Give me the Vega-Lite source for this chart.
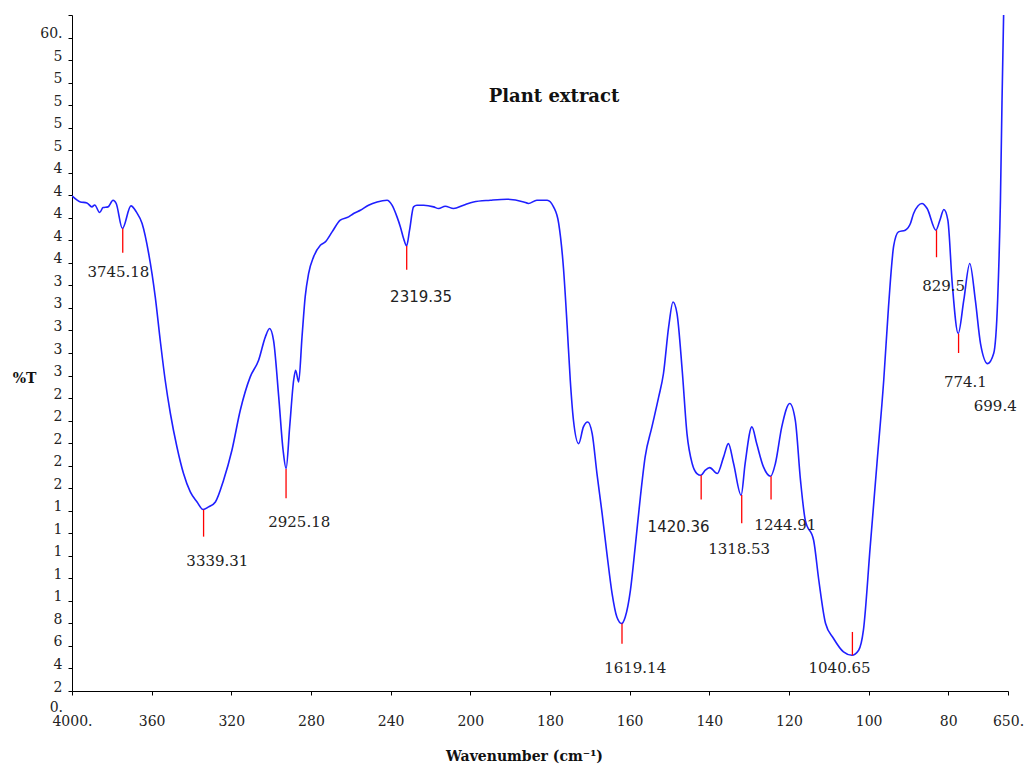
{
  "$schema": "https://vega.github.io/schema/vega-lite/v6.json",
  "width": 936,
  "height": 676,
  "autosize": "none",
  "padding": {"left": 72, "top": 15, "right": 17, "bottom": 76},
  "background": "white",
  "config": {"view": {"stroke": null}},
  "title": {"text": "Plant extract", "font": "DejaVu Serif", "fontSize": 18, "fontWeight": "bold", "color": "#111", "anchor": "middle", "offset": -116, "baseline": "alphabetic", "dx": 14},
  "datasets": {
    "spectrum": [
      {"wn": 4000, "t": 45.94}, {"wn": 3958, "t": 45.41}, {"wn": 3925, "t": 45.32}, {"wn": 3900, "t": 44.97},
      {"wn": 3886, "t": 45.14}, {"wn": 3861, "t": 44.47}, {"wn": 3844, "t": 44.91}, {"wn": 3819, "t": 44.97},
      {"wn": 3794, "t": 45.56}, {"wn": 3778, "t": 45.27}, {"wn": 3747, "t": 43.05}, {"wn": 3704, "t": 45.06},
      {"wn": 3677, "t": 44.52}, {"wn": 3648, "t": 43.49}, {"wn": 3615, "t": 40.83}, {"wn": 3582, "t": 36.98},
      {"wn": 3557, "t": 33.13}, {"wn": 3532, "t": 29.58}, {"wn": 3506, "t": 26.63}, {"wn": 3473, "t": 23.66},
      {"wn": 3440, "t": 21.3}, {"wn": 3406, "t": 19.67}, {"wn": 3372, "t": 18.78}, {"wn": 3342, "t": 18.11},
      {"wn": 3314, "t": 18.34}, {"wn": 3280, "t": 18.78}, {"wn": 3239, "t": 20.71}, {"wn": 3197, "t": 23.37},
      {"wn": 3155, "t": 26.92}, {"wn": 3105, "t": 29.88}, {"wn": 3063, "t": 31.36}, {"wn": 3029, "t": 33.43},
      {"wn": 3008, "t": 34.17}, {"wn": 2988, "t": 33.13}, {"wn": 2962, "t": 28.1}, {"wn": 2940, "t": 23.37},
      {"wn": 2925, "t": 21.74}, {"wn": 2907, "t": 25.44}, {"wn": 2887, "t": 29.58}, {"wn": 2877, "t": 30.47},
      {"wn": 2862, "t": 29.43}, {"wn": 2845, "t": 33.43}, {"wn": 2829, "t": 37.0}, {"wn": 2812, "t": 39.05},
      {"wn": 2787, "t": 40.53}, {"wn": 2753, "t": 41.57}, {"wn": 2728, "t": 41.86}, {"wn": 2694, "t": 42.75},
      {"wn": 2653, "t": 43.79}, {"wn": 2611, "t": 44.08}, {"wn": 2586, "t": 44.38}, {"wn": 2552, "t": 44.67},
      {"wn": 2511, "t": 45.12}, {"wn": 2468, "t": 45.41}, {"wn": 2418, "t": 45.56}, {"wn": 2393, "t": 45.12},
      {"wn": 2368, "t": 44.08}, {"wn": 2351, "t": 43.19}, {"wn": 2335, "t": 42.16}, {"wn": 2320, "t": 41.5},
      {"wn": 2305, "t": 42.9}, {"wn": 2285, "t": 44.97}, {"wn": 2268, "t": 45.12}, {"wn": 2234, "t": 45.12},
      {"wn": 2184, "t": 44.97}, {"wn": 2159, "t": 44.82}, {"wn": 2126, "t": 45.03}, {"wn": 2084, "t": 44.82},
      {"wn": 2034, "t": 45.12}, {"wn": 1992, "t": 45.41}, {"wn": 1950, "t": 45.56}, {"wn": 1908, "t": 45.65},
      {"wn": 1866, "t": 45.41}, {"wn": 1854, "t": 45.27}, {"wn": 1833, "t": 45.56}, {"wn": 1807, "t": 45.56},
      {"wn": 1791, "t": 44.97}, {"wn": 1778, "t": 43.49}, {"wn": 1766, "t": 39.5}, {"wn": 1757, "t": 34.5},
      {"wn": 1749, "t": 29.58}, {"wn": 1741, "t": 26.03}, {"wn": 1728, "t": 23.96}, {"wn": 1716, "t": 25.44},
      {"wn": 1705, "t": 25.88}, {"wn": 1694, "t": 24.85}, {"wn": 1682, "t": 21.3}, {"wn": 1669, "t": 17.75},
      {"wn": 1657, "t": 14.2}, {"wn": 1644, "t": 10.65}, {"wn": 1632, "t": 8.57}, {"wn": 1620, "t": 7.99},
      {"wn": 1611, "t": 8.57}, {"wn": 1598, "t": 10.94}, {"wn": 1586, "t": 14.79}, {"wn": 1573, "t": 19.22},
      {"wn": 1561, "t": 22.78}, {"wn": 1544, "t": 25.44}, {"wn": 1527, "t": 28.1}, {"wn": 1515, "t": 30.18},
      {"wn": 1502, "t": 34.31}, {"wn": 1491, "t": 36.53}, {"wn": 1481, "t": 35.5}, {"wn": 1468, "t": 30.47},
      {"wn": 1456, "t": 24.85}, {"wn": 1443, "t": 22.19}, {"wn": 1431, "t": 21.3}, {"wn": 1421, "t": 21.15},
      {"wn": 1410, "t": 21.6}, {"wn": 1399, "t": 21.83}, {"wn": 1380, "t": 21.3}, {"wn": 1364, "t": 22.78},
      {"wn": 1352, "t": 23.96}, {"wn": 1339, "t": 22.19}, {"wn": 1320, "t": 19.37}, {"wn": 1310, "t": 22.19},
      {"wn": 1293, "t": 25.44}, {"wn": 1281, "t": 23.96}, {"wn": 1264, "t": 21.89}, {"wn": 1246, "t": 21.06},
      {"wn": 1234, "t": 22.19}, {"wn": 1218, "t": 25.44}, {"wn": 1198, "t": 27.52}, {"wn": 1184, "t": 26.03},
      {"wn": 1171, "t": 20.71}, {"wn": 1159, "t": 17.16}, {"wn": 1138, "t": 15.38}, {"wn": 1125, "t": 11.83},
      {"wn": 1108, "t": 7.99}, {"wn": 1088, "t": 6.66}, {"wn": 1063, "t": 5.47}, {"wn": 1042, "t": 5.17},
      {"wn": 1025, "t": 5.62}, {"wn": 1013, "t": 7.4}, {"wn": 996, "t": 14.79}, {"wn": 979, "t": 22.19},
      {"wn": 962, "t": 29.58}, {"wn": 950, "t": 36.09}, {"wn": 937, "t": 41.5}, {"wn": 925, "t": 42.75},
      {"wn": 908, "t": 42.9}, {"wn": 895, "t": 43.49}, {"wn": 887, "t": 44.38}, {"wn": 866, "t": 45.27},
      {"wn": 853, "t": 44.82}, {"wn": 831, "t": 42.9}, {"wn": 821, "t": 43.79}, {"wn": 811, "t": 44.74},
      {"wn": 801, "t": 43.79}, {"wn": 790, "t": 38.17}, {"wn": 775, "t": 33.73}, {"wn": 761, "t": 36.69},
      {"wn": 746, "t": 39.94}, {"wn": 732, "t": 36.69}, {"wn": 719, "t": 32.84}, {"wn": 701, "t": 31.06},
      {"wn": 686, "t": 31.95}, {"wn": 676, "t": 36.69}, {"wn": 669, "t": 45.56}, {"wn": 665, "t": 54.44},
      {"wn": 661, "t": 62.0}, {"wn": 655, "t": 72.0}
    ],
    "peaks": [
      {"wn": 3745.18, "t": 43.05, "t2": 40.9, "lx": 3767, "ly": 39.2, "label": "3745.18"},
      {"wn": 3339.31, "t": 18.1, "t2": 15.7, "lx": 3270, "ly": 13.5, "label": "3339.31"},
      {"wn": 2925.18, "t": 21.7, "t2": 19.1, "lx": 2859, "ly": 17.0, "label": "2925.18"},
      {"wn": 2319.35, "t": 41.5, "t2": 39.4, "lx": 2247, "ly": 37.0, "label": "2319.35"},
      {"wn": 1619.14, "t": 8.0, "t2": 6.2, "lx": 1586, "ly": 4.0, "label": "1619.14"},
      {"wn": 1420.36, "t": 21.15, "t2": 19.0, "lx": 1477, "ly": 16.6, "label": "1420.36"},
      {"wn": 1318.53, "t": 19.4, "t2": 16.9, "lx": 1325, "ly": 14.6, "label": "1318.53"},
      {"wn": 1244.91, "t": 21.06, "t2": 19.0, "lx": 1209, "ly": 16.7, "label": "1244.91"},
      {"wn": 1040.65, "t": 5.17, "t2": 7.24, "lx": 1073, "ly": 4.06, "label": "1040.65"},
      {"wn": 829.5, "t": 42.9, "t2": 40.5, "lx": 811.5, "ly": 37.95, "label": "829.5"},
      {"wn": 774.1, "t": 33.7, "t2": 32.0, "lx": 757, "ly": 29.4, "label": "774.1"},
      {"wn": 699.4, "lx": 682, "ly": 27.3, "label": "699.4"}
    ],
    "zero": [{"wn": 4000, "t": 0, "label": "0."}]
  },
  "encoding": {
    "x": {
      "field": "wn", "type": "quantitative",
      "scale": {"domain": [4000, 2000, 650], "range": [0, 398.3, 936], "nice": false, "zero": false},
      "axis": {
        "title": "Wavenumber (cm⁻¹)",
        "values": [4000, 3600, 3200, 2800, 2400, 2000, 1800, 1600, 1400, 1200, 1000, 800, 650],
        "labelExpr": "datum.value == 4000 ? '4000.' : datum.value == 650 ? '650.' : substring(toString(datum.value), 0, length(toString(datum.value)) - 1)",
        "grid": false, "domainColor": "#000", "tickColor": "#000", "tickSize": 4,
        "labelFont": "DejaVu Serif", "labelFontSize": 14, "labelColor": "#222", "labelPadding": 19,
        "labelFlush": false, "labelOverlap": false,
        "titleFont": "DejaVu Serif", "titleFontSize": 14, "titleFontWeight": "bold", "titleColor": "#111",
        "titleX": 452, "titleY": 65, "titleAlign": "center", "titleBaseline": "middle"
      }
    },
    "y": {
      "field": "t", "type": "quantitative",
      "scale": {"domain": [2, 62], "nice": false, "zero": false},
      "axis": {
        "title": "%T",
        "values": [2, 4, 6, 8, 10, 12, 14, 16, 18, 20, 22, 24, 26, 28, 30, 32, 34, 36, 38, 40, 42, 44, 46, 48, 50, 52, 54, 56, 58, 60, 62],
        "labelExpr": "datum.value == 60 ? '60.' : datum.value == 62 ? '' : substring(toString(datum.value), 0, 1)",
        "grid": false, "domainColor": "#000", "tickColor": "#000", "tickSize": 4,
        "labelFont": "DejaVu Serif", "labelFontSize": 14, "labelColor": "#222", "labelPadding": 6,
        "labelBaseline": "alphabetic", "labelOverlap": false, "labelFlush": false,
        "titleFont": "DejaVu Serif", "titleFontSize": 14, "titleFontWeight": "bold", "titleColor": "#111",
        "titleAngle": 0, "titleX": -48, "titleY": 363, "titleAlign": "center", "titleBaseline": "middle"
      }
    }
  },
  "layer": [
    {
      "data": {"name": "spectrum"},
      "mark": {"type": "line", "color": "#1f1fff", "strokeWidth": 1.6, "interpolate": "monotone", "clip": true}
    },
    {
      "data": {"name": "peaks"},
      "mark": {"type": "rule", "color": "#ff0000", "strokeWidth": 1.3},
      "encoding": {"y2": {"field": "t2"}}
    },
    {
      "data": {"name": "peaks"},
      "transform": [{"filter": "datum.label != '2319.35' && datum.label != '1420.36'"}],
      "mark": {"type": "text", "font": "DejaVu Serif", "fontSize": 15, "color": "#222", "align": "center", "baseline": "middle"},
      "encoding": {
        "x": {"field": "lx", "type": "quantitative"},
        "y": {"field": "ly", "type": "quantitative"},
        "text": {"field": "label"}
      }
    },
    {
      "data": {"name": "peaks"},
      "transform": [{"filter": "datum.label == '2319.35' || datum.label == '1420.36'"}],
      "mark": {"type": "text", "font": "DejaVu Sans", "fontSize": 15, "color": "#222", "align": "center", "baseline": "middle"},
      "encoding": {
        "x": {"field": "lx", "type": "quantitative"},
        "y": {"field": "ly", "type": "quantitative"},
        "text": {"field": "label"}
      }
    },
    {
      "data": {"name": "zero"},
      "mark": {"type": "text", "font": "DejaVu Serif", "fontSize": 14, "color": "#222", "align": "right", "baseline": "alphabetic", "dx": -9, "dy": -2},
      "encoding": {
        "text": {"field": "label"}
      }
    }
  ]
}
